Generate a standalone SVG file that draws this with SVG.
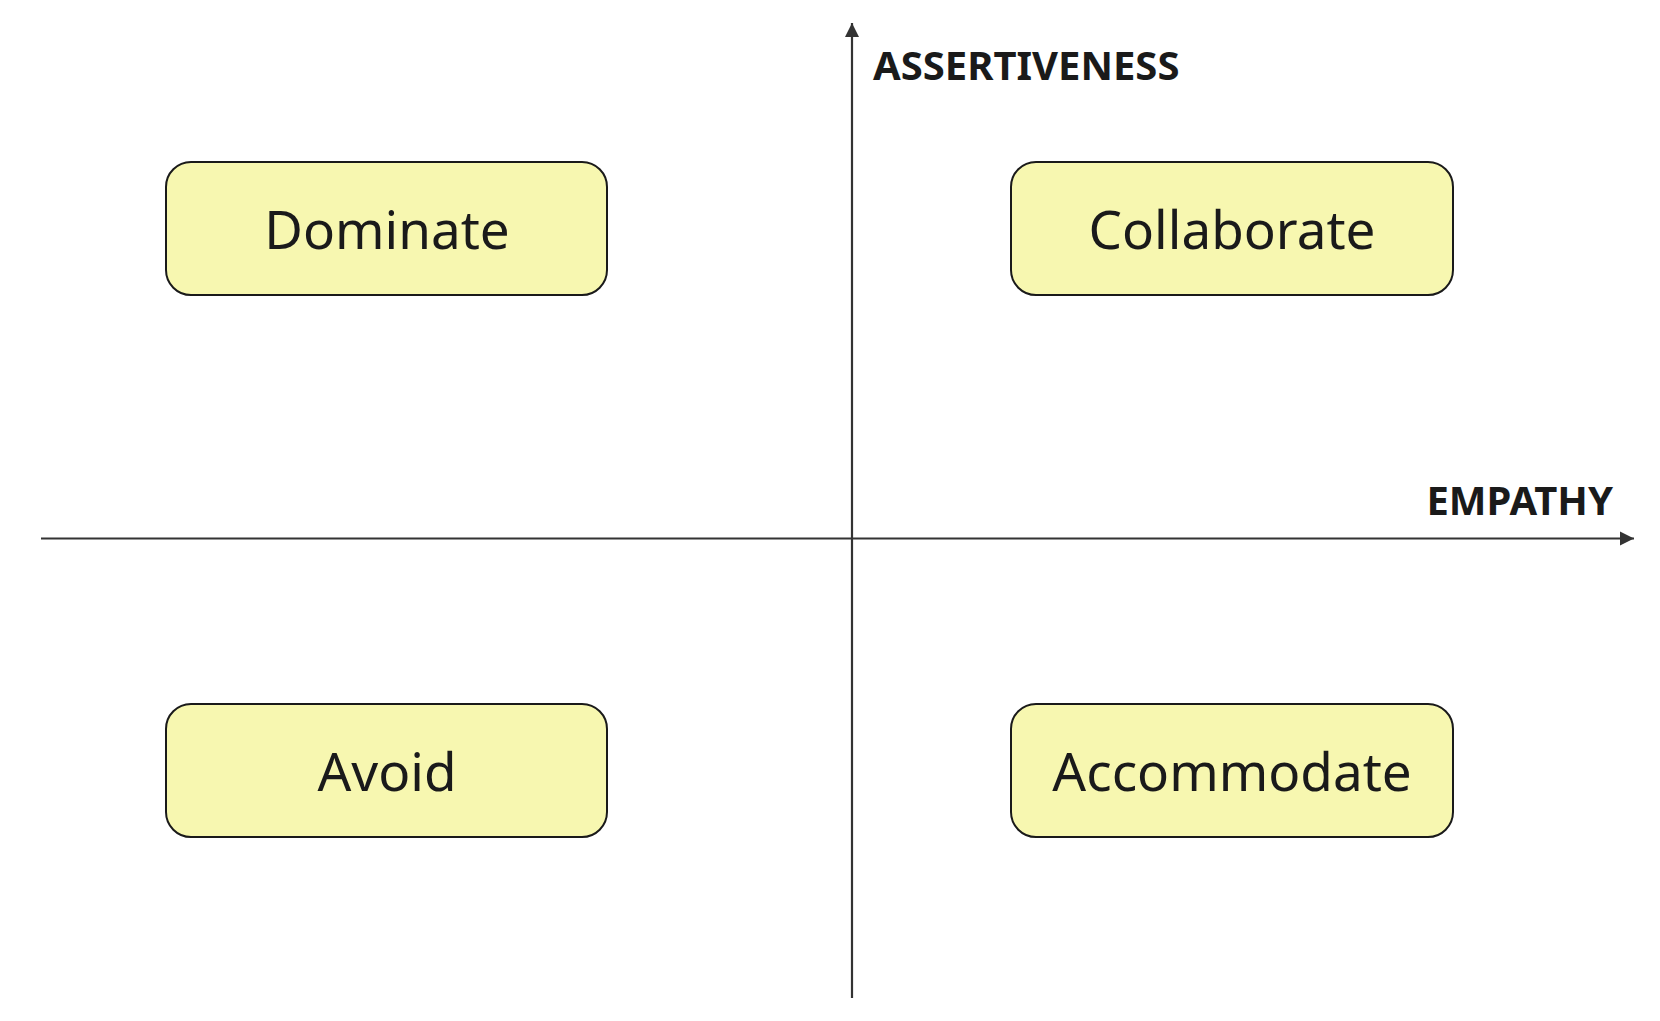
<svg xmlns="http://www.w3.org/2000/svg" width="1660" height="1021" viewBox="0 0 1660 1021">
<style>
.box{fill:#f7f7b0;stroke:#1a1a1a;stroke-width:2}
.lbl{font-family:"Noto Sans","Open Sans",sans-serif;font-size:53px;fill:#1a1a1a;text-anchor:middle}
.axis{stroke:#333;stroke-width:2.2;fill:none}
.axl{font-family:"Noto Sans","Open Sans",sans-serif;font-weight:bold;font-size:40px;fill:#1a1a1a}
</style>
<defs>
<marker id="ah" viewBox="0 0 10 10" refX="10" refY="5" markerWidth="6.5" markerHeight="6.5" markerUnits="strokeWidth" orient="auto">
<path d="M0,0 L10,5 L0,10 z" fill="#333"/>
</marker>
</defs>
<rect width="1660" height="1021" fill="#fff"/>
<g id="connectors">
<line class="axis" x1="852" y1="998" x2="852" y2="23" marker-end="url(#ah)"/>
<line class="axis" x1="41" y1="538.5" x2="1634" y2="538.5" marker-end="url(#ah)"/>
</g>
<g id="label-assertiveness"><text class="axl" x="873" y="80">ASSERTIVENESS</text></g>
<g id="label-empathy"><text class="axl" x="1613" y="515" text-anchor="end">EMPATHY</text></g>
<g id="dominate"><rect class="box" x="166" y="162" width="441" height="133" rx="25"/><text class="lbl" x="387" y="249">Dominate</text></g>
<g id="collaborate"><rect class="box" x="1011" y="162" width="442" height="133" rx="25"/><text class="lbl" x="1232" y="249">Collaborate</text></g>
<g id="avoid"><rect class="box" x="166" y="704" width="441" height="133" rx="25"/><text class="lbl" x="387" y="791">Avoid</text></g>
<g id="accommodate"><rect class="box" x="1011" y="704" width="442" height="133" rx="25"/><text class="lbl" x="1232" y="791">Accommodate</text></g>
</svg>
